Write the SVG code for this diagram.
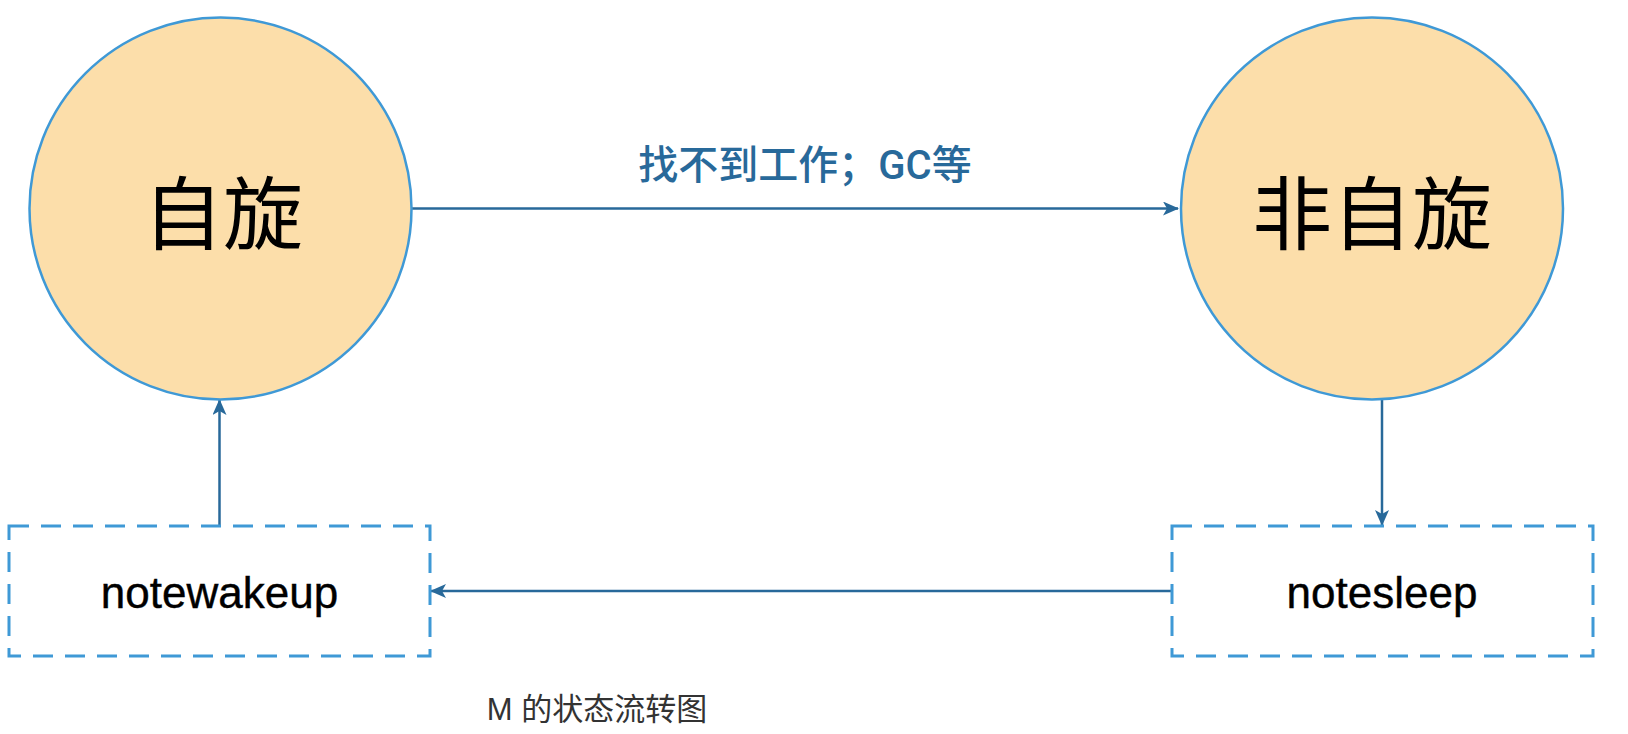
<svg xmlns="http://www.w3.org/2000/svg" width="1628" height="734" viewBox="0 0 1628 734">
<defs>
<style>
.state{fill:#fcdeaa;stroke:#3f99d6;stroke-width:2.5}
.box{fill:none;stroke:#3f99d6;stroke-width:3;stroke-dasharray:20 12}
.edge{fill:none;stroke:#28699a;stroke-width:2.5}
.big{font-family:"Noto Sans CJK SC","Noto Sans",sans-serif;font-size:80px;fill:#000;text-anchor:middle}
.lbl{font-family:"Liberation Sans","Noto Sans CJK SC",sans-serif;font-size:44px;fill:#000;text-anchor:middle;stroke:#000;stroke-width:0.4}
.elbl{font-family:Roboto,"Noto Sans CJK SC",sans-serif;font-size:40px;font-weight:500;fill:#28699a;text-anchor:middle}
.cap{font-family:"Liberation Sans","Noto Sans CJK SC",sans-serif;font-size:31px;fill:#333;text-anchor:middle}
</style>
<marker id="arr" viewBox="0 0 16 14" refX="15" refY="7" markerWidth="16" markerHeight="14" markerUnits="userSpaceOnUse" orient="auto">
<path d="M0,0 L16,7 L0,14 L4,7 Z" fill="#28699a"/>
</marker>
</defs>
<g id="connectors">
<line class="edge" x1="412" y1="208.5" x2="1178" y2="208.5" marker-end="url(#arr)"/>
<line class="edge" x1="1382" y1="399" x2="1382" y2="525" marker-end="url(#arr)"/>
<line class="edge" x1="1171" y1="591" x2="431" y2="591" marker-end="url(#arr)"/>
<line class="edge" x1="219.5" y1="526" x2="219.5" y2="400" marker-end="url(#arr)"/>
<text class="elbl" x="805" y="179">找不到工作；GC等</text>
</g>
<g id="spin">
<circle class="state" cx="220.5" cy="208.5" r="191"/>
<text class="big" x="223" y="243">自旋</text>
</g>
<g id="nonspin">
<circle class="state" cx="1372" cy="208.5" r="191"/>
<text class="big" x="1372" y="243">非自旋</text>
</g>
<g id="notewakeup">
<rect class="box" x="9" y="526" width="421" height="130"/>
<text class="lbl" x="219.5" y="608">notewakeup</text>
</g>
<g id="notesleep">
<rect class="box" x="1172" y="526" width="421" height="130"/>
<text class="lbl" x="1382" y="608">notesleep</text>
</g>
<g id="caption">
<text class="cap" x="597" y="720">M 的状态流转图</text>
</g>
</svg>
